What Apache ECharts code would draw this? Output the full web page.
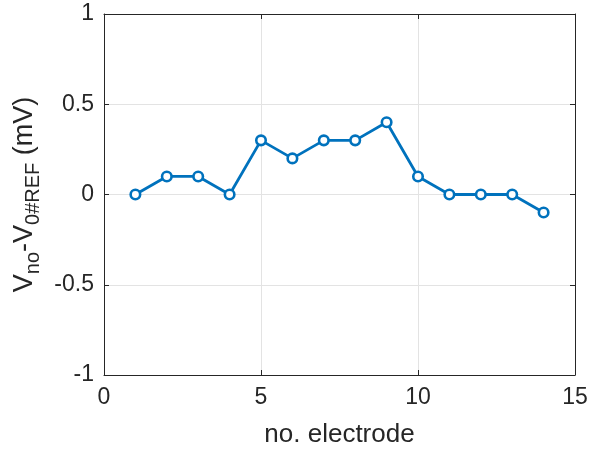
<!DOCTYPE html>
<html><head><meta charset="utf-8">
<script src="https://cdn.jsdelivr.net/npm/echarts@6/dist/echarts.min.js"></script>
<style>html,body{margin:0;padding:0;background:#fff}#c{width:593px;height:453px}</style>
</head><body><div id="c"></div>
<script>
const electrodes = [1,2,3,4,5,6,7,8,9,10,11,12,13,14];
const deltaV = [0,0.1,0.1,0,0.3,0.2,0.3,0.3,0.4,0.1,0,0,0,-0.1];
const xTicks = [0,5,10,15];
const yTicks = [-1,-0.5,0,0.5,1];

const chart = echarts.init(document.getElementById('c'));
const font = 'Liberation Sans, Arial, Helvetica, sans-serif';
const axisColor = '#262626';
const common = {
  axisLine:{show:true,onZero:false,lineStyle:{color:axisColor,width:1}},
  axisTick:{show:true,inside:true,length:5,lineStyle:{color:axisColor}},
  splitLine:{show:true,lineStyle:{color:'#e3e3e3',width:1}}
};
chart.setOption({
  animation:false,
  backgroundColor:'#fff',
  grid:{left:104,top:14,width:471,height:365,containLabel:false},
  xAxis:[
    Object.assign({type:'value',min:xTicks[0],max:xTicks[xTicks.length-1],interval:5,position:'bottom',
      name:'no. electrode',nameLocation:'middle',nameGap:47,
      nameTextStyle:{fontFamily:font,fontSize:26,color:axisColor},
      axisLabel:{fontFamily:font,fontSize:23,color:axisColor,margin:11}},common),
    Object.assign({type:'value',min:0,max:15,interval:5,position:'top',axisLabel:{show:false}},common,{splitLine:{show:false}})
  ],
  yAxis:[
    Object.assign({type:'value',min:yTicks[0],max:yTicks[yTicks.length-1],interval:0.5,position:'left',
      name:'{m|V}{s|no}{m|-V}{s|0#REF}{m| (mV)}',nameLocation:'middle',nameGap:58,nameRotate:90,
      nameTextStyle:{fontFamily:font,color:axisColor,
        rich:{m:{fontFamily:font,fontSize:27,color:axisColor,lineHeight:38,verticalAlign:'middle'},
              s:{fontFamily:font,fontSize:20,color:axisColor,lineHeight:38,verticalAlign:'bottom'}}},
      axisLabel:{fontFamily:font,fontSize:23,color:axisColor,margin:10}},common),
    Object.assign({type:'value',min:-1,max:1,interval:0.5,position:'right',axisLabel:{show:false}},common,{splitLine:{show:false}})
  ],
  series:[{
    type:'line',
    data:electrodes.map((e,i)=>[e,deltaV[i]]),
    lineStyle:{color:'#0072BD',width:2.8},
    itemStyle:{color:'#fff',borderColor:'#0072BD',borderWidth:2.6},
    symbol:'circle',symbolSize:9.5,showSymbol:true
  }]
});
</script></body></html>
